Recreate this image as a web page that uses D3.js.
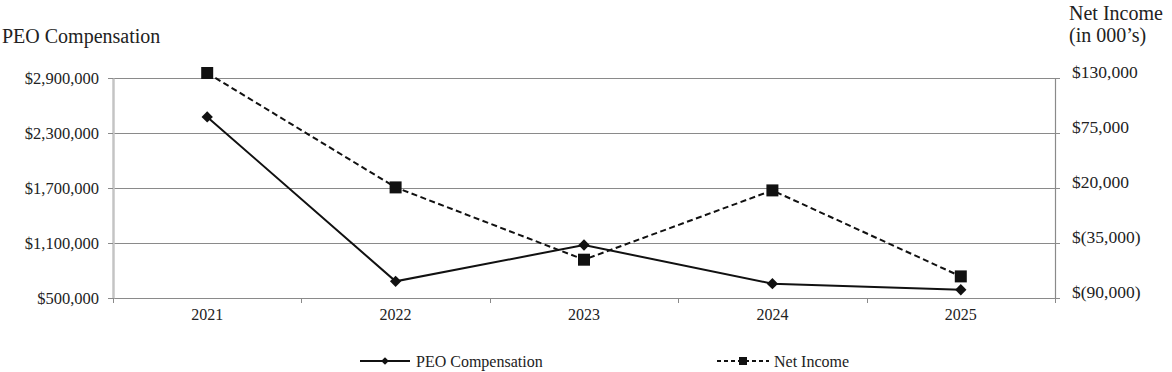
<!DOCTYPE html>
<html>
<head>
<meta charset="utf-8">
<script src="https://cdn.jsdelivr.net/npm/d3@7"></script>
<style>
  body { margin: 0; background: #fff; }
  svg { display: block; font-family: "Liberation Serif", "Times New Roman", serif; }
  .axis text { fill: #222; font-family: "Liberation Serif", serif; }
  .title { font-size: 20px; fill: #222; }
  .legend-label { font-size: 16px; fill: #222; }
</style>
</head>
<body>
<svg id="chart"></svg>
<script>
// Chart data
const years = ['2021', '2022', '2023', '2024', '2025'];
const peoComp = [2475000, 682000, 1078000, 656000, 590000];
const netIncome = [135000, 20600, -51700, 17600, -68400];

const leftTicks = [500000, 1100000, 1700000, 2300000, 2900000];
const rightTicks = [-90000, -35000, 20000, 75000, 130000];

const config = {
  width: 1172,
  height: 372,
  margin: {top: 78, right: 117, bottom: 74, left: 113}
};

const width = config.width - config.margin.left - config.margin.right;
const height = config.height - config.margin.top - config.margin.bottom;

const svg = d3.select('#chart')
  .attr('width', config.width)
  .attr('height', config.height);

const chart = svg.append('g')
  .attr('transform', `translate(${config.margin.left},${config.margin.top})`);

// Scales
const xScale = d3.scaleBand().domain(years).range([0, width]);
const yLeft = d3.scaleLinear().domain([500000, 2900000]).range([height, 0]);
const yRight = d3.scaleLinear().domain([-90000, 130000]).range([height, 0]);

const fmtComma = d3.format(',');
const fmtLeft = v => '$' + fmtComma(v);
const fmtRight = v => v < 0 ? '$(' + fmtComma(-v) + ')' : '$' + fmtComma(v);

// Gridlines
chart.append('g')
  .selectAll('line')
  .data(leftTicks)
  .join('line')
  .attr('x1', 0)
  .attr('x2', width)
  .attr('y1', d => Math.round(yLeft(d)) + 0.5)
  .attr('y2', d => Math.round(yLeft(d)) + 0.5)
  .attr('stroke', '#8a8a8a')
  .attr('stroke-width', 1.2);

// Left axis
const leftAxisG = chart.append('g')
  .attr('class', 'axis y-axis-left')
  .call(d3.axisLeft(yLeft).tickValues(leftTicks).tickFormat(fmtLeft).tickSize(5).tickPadding(9).tickSizeOuter(0));
leftAxisG.select('.domain').attr('stroke', '#c4c4c4').attr('stroke-width', 2.5);
leftAxisG.selectAll('.tick line').attr('stroke', '#8a8a8a');
leftAxisG.selectAll('.tick text').style('font-size', '16.5px');

// Right axis (labels sit a little above their ticks)
const rightAxisG = chart.append('g')
  .attr('class', 'axis y-axis-right')
  .attr('transform', `translate(${width},0)`)
  .call(d3.axisRight(yRight).tickValues(rightTicks).tickFormat(fmtRight).tickSize(5).tickPadding(12).tickSizeOuter(0));
rightAxisG.select('.domain').attr('stroke', '#8a8a8a').attr('stroke-width', 1.2);
rightAxisG.selectAll('.tick line').attr('stroke', '#8a8a8a');
rightAxisG.selectAll('.tick text').style('font-size', '17.5px').attr('dy', '-0.04em');

// X axis (labels centered, ticks at band boundaries)
const xAxisG = chart.append('g')
  .attr('class', 'axis x-axis')
  .attr('transform', `translate(0,${height})`)
  .call(d3.axisBottom(xScale).tickSize(0).tickPadding(11));
xAxisG.select('.domain').remove();
xAxisG.selectAll('.tick text').style('font-size', '16px');

const boundaries = years.map(d => xScale(d)).concat([xScale.range()[1]]);
chart.append('g')
  .selectAll('line')
  .data(boundaries)
  .join('line')
  .attr('x1', d => Math.round(d) + 0.5)
  .attr('x2', d => Math.round(d) + 0.5)
  .attr('y1', height)
  .attr('y2', height + 5)
  .attr('stroke', '#8a8a8a');

const xCenter = d => xScale(d) + xScale.bandwidth() / 2;

// Lines
const peoData = years.map((y, i) => ({year: y, value: peoComp[i]}));
const niData = years.map((y, i) => ({year: y, value: netIncome[i]}));

chart.append('path')
  .datum(niData)
  .attr('fill', 'none')
  .attr('stroke', '#111')
  .attr('stroke-width', 2)
  .attr('stroke-dasharray', '6,3.5')
  .attr('d', d3.line().x(d => xCenter(d.year)).y(d => yRight(d.value)));

chart.append('path')
  .datum(peoData)
  .attr('fill', 'none')
  .attr('stroke', '#111')
  .attr('stroke-width', 2)
  .attr('d', d3.line().x(d => xCenter(d.year)).y(d => yLeft(d.value)));

// Markers
const squareSym = d3.symbol().type(d3.symbolSquare).size(144);
const diamondSym = d3.symbol().type(d3.symbolSquare).size(64);

chart.selectAll('.sq')
  .data(niData)
  .join('path')
  .attr('class', 'sq')
  .attr('d', squareSym)
  .attr('transform', d => `translate(${xCenter(d.year)},${yRight(d.value)})`)
  .attr('fill', '#111');

chart.selectAll('.dm')
  .data(peoData)
  .join('path')
  .attr('class', 'dm')
  .attr('d', diamondSym)
  .attr('transform', d => `translate(${xCenter(d.year)},${yLeft(d.value)}) rotate(45)`)
  .attr('fill', '#111');

// Axis titles
svg.append('text')
  .attr('class', 'title')
  .attr('x', 2)
  .attr('y', 43)
  .text('PEO Compensation');

svg.append('text')
  .attr('class', 'title')
  .attr('x', 1069)
  .attr('y', 19.5)
  .text('Net Income');

svg.append('text')
  .attr('class', 'title')
  .attr('x', 1069)
  .attr('y', 42)
  .text('(in 000’s)');

// Legend
const legend = svg.append('g').attr('transform', 'translate(0,361)');

const peoLeg = legend.append('g').attr('transform', 'translate(360,0)');
peoLeg.append('line')
  .attr('x1', 0).attr('x2', 50).attr('y1', 0).attr('y2', 0)
  .attr('stroke', '#111').attr('stroke-width', 2);
peoLeg.append('path')
  .attr('d', d3.symbol().type(d3.symbolSquare).size(30))
  .attr('transform', 'translate(25,0) rotate(45)')
  .attr('fill', '#111');
peoLeg.append('text')
  .attr('class', 'legend-label')
  .attr('x', 56)
  .attr('y', 5.5)
  .text('PEO Compensation');

const niLeg = legend.append('g').attr('transform', 'translate(717,0)');
niLeg.append('line')
  .attr('x1', 0).attr('x2', 52).attr('y1', 0).attr('y2', 0)
  .attr('stroke', '#111').attr('stroke-width', 2)
  .attr('stroke-dasharray', '4,3');
niLeg.append('path')
  .attr('d', d3.symbol().type(d3.symbolSquare).size(64))
  .attr('transform', 'translate(26,0)')
  .attr('fill', '#111');
niLeg.append('text')
  .attr('class', 'legend-label')
  .attr('x', 57)
  .attr('y', 5.5)
  .text('Net Income');
</script>
</body>
</html>
